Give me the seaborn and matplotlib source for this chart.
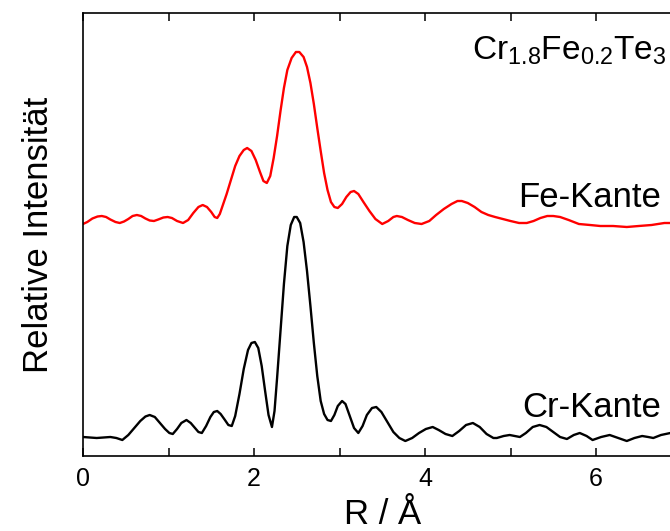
import pandas as pd
import matplotlib
matplotlib.use("Agg")
import matplotlib.pyplot as plt
import seaborn as sns
from matplotlib.ticker import MultipleLocator

# ---- data (R in Angstrom, intensity in arbitrary units) ----
fe_r = [0.00, 0.05, 0.11, 0.17, 0.22, 0.27, 0.32, 0.38, 0.43, 0.48, 0.53, 0.58,
        0.63, 0.68, 0.73, 0.78, 0.83, 0.88, 0.94, 0.99, 1.04, 1.10, 1.17, 1.23,
        1.29, 1.35, 1.40, 1.45, 1.50, 1.54, 1.57, 1.60, 1.64, 1.68, 1.73, 1.78,
        1.83, 1.88, 1.92, 1.97, 2.02, 2.07, 2.11, 2.15, 2.19, 2.23, 2.27, 2.31,
        2.35, 2.39, 2.44, 2.49, 2.53, 2.58, 2.62, 2.66, 2.70, 2.74, 2.78, 2.82,
        2.86, 2.90, 2.94, 2.98, 3.03, 3.08, 3.13, 3.17, 3.22, 3.28, 3.35, 3.42,
        3.50, 3.57, 3.63, 3.67, 3.73, 3.80, 3.88, 3.96, 4.05, 4.13, 4.22, 4.31,
        4.38, 4.43, 4.50, 4.58, 4.66, 4.74, 4.82, 4.91, 5.00, 5.10, 5.19, 5.27,
        5.35, 5.43, 5.50, 5.58, 5.68, 5.80, 5.93, 6.05, 6.20, 6.36, 6.50, 6.65,
        6.80, 6.95]
fe_int = [232, 234, 237.5, 239.5, 240, 239, 236.5, 234, 233, 234.5, 237, 240,
          241, 240, 237.5, 235.5, 235, 236.5, 238.5, 239, 238, 235, 233, 236,
          243, 249, 251, 249, 244, 239, 238, 242, 252, 262, 276, 290,
          300, 306, 308, 305, 296, 284, 275, 273, 280, 298, 320, 345,
          368, 386, 398, 404, 404, 399, 389, 373, 352, 328, 305, 283,
          266, 254, 249, 248, 252, 259, 264, 265, 262, 254, 245, 237,
          232, 235, 239, 240, 239, 236, 233, 232, 235, 241, 247, 252,
          255, 255, 253, 249, 244, 241, 239, 237, 235, 233, 233, 235,
          238, 240, 240, 239, 236, 232, 231, 230, 230, 229, 230, 231,
          233, 233]

cr_r = [0.00, 0.08, 0.16, 0.24, 0.32, 0.39, 0.46, 0.53, 0.60, 0.67, 0.73, 0.78,
        0.84, 0.90, 0.96, 1.01, 1.05, 1.10, 1.15, 1.21, 1.26, 1.31, 1.35, 1.39,
        1.44, 1.49, 1.53, 1.57, 1.61, 1.66, 1.70, 1.74, 1.78, 1.83, 1.88, 1.93,
        1.97, 2.01, 2.05, 2.09, 2.13, 2.17, 2.21, 2.24, 2.27, 2.31, 2.35, 2.39,
        2.43, 2.47, 2.50, 2.54, 2.58, 2.62, 2.66, 2.70, 2.74, 2.78, 2.82, 2.86,
        2.90, 2.94, 2.98, 3.03, 3.07, 3.12, 3.17, 3.22, 3.27, 3.32, 3.38, 3.43,
        3.49, 3.56, 3.63, 3.70, 3.77, 3.85, 3.93, 4.01, 4.09, 4.16, 4.24, 4.32,
        4.40, 4.48, 4.56, 4.64, 4.72, 4.80, 4.84, 4.92, 4.99, 5.05, 5.11, 5.18,
        5.26, 5.34, 5.42, 5.50, 5.58, 5.66, 5.74, 5.81, 5.89, 5.96, 6.06, 6.16,
        6.26, 6.36, 6.45, 6.54, 6.61, 6.67, 6.76, 6.87, 6.95]
cr_int = [19, 18.5, 18, 18.5, 19, 18, 16, 21, 28, 35, 39.5, 41,
          39, 33, 27, 23, 22, 27, 33, 36, 33, 28, 24, 23,
          30, 39, 44, 45, 42, 36, 31, 30, 40, 62, 87, 106,
          113, 114, 108, 90, 65, 41, 29, 45, 78, 125, 172, 210,
          231, 239, 239, 233, 214, 185, 150, 113, 80, 55, 42, 36,
          35, 41, 50, 55, 52, 40, 28, 23, 30, 41, 48, 49,
          44, 34, 24, 18, 15, 18, 23, 27, 29, 26, 22, 20,
          25, 31, 33, 29, 22, 18, 18, 20, 21, 20, 19, 23,
          29, 31, 29, 24, 19, 17, 21, 23, 20, 16, 19, 21,
          18, 15, 18, 20, 19, 18, 21, 23, 23]

edge_labels = ["Fe-Kante", "Cr-Kante"]
compound = r"Cr$_{1.8}$Fe$_{0.2}$Te$_{3}$"

df = pd.concat([
    pd.DataFrame({"R": fe_r, "I": fe_int, "edge": "Fe"}),
    pd.DataFrame({"R": cr_r, "I": cr_int, "edge": "Cr"}),
])

sns.set_style("ticks")
plt.rcParams["font.family"] = ["Liberation Sans", "DejaVu Sans"]
plt.rcParams["mathtext.fontset"] = "custom"
plt.rcParams["mathtext.rm"] = "Liberation Sans"
plt.rcParams["mathtext.it"] = "Liberation Sans"
plt.rcParams["text.color"] = "black"
plt.rcParams["axes.labelcolor"] = "black"

fig = plt.figure(figsize=(6.7, 5.31), dpi=100)
ax = fig.add_axes([83 / 670, 75 / 531, 598.5 / 670, 443 / 531])

sns.lineplot(data=df, x="R", y="I", hue="edge", palette={"Fe": "#ff0000", "Cr": "black"},
             sort=False, estimator=None, linewidth=1.7, legend=False, ax=ax)

ax.set_xlim(0, 7)
ax.set_ylim(0, 443)
ax.set_yticks([])
ax.xaxis.set_major_locator(MultipleLocator(2))
ax.xaxis.set_minor_locator(MultipleLocator(1))
ax.tick_params(axis="x", which="both", direction="in", top=True, bottom=True,
               length=6, width=1.1, labelsize=18, pad=8, colors="black")
for s in ax.spines.values():
    s.set_linewidth(1.2)
    s.set_color("black")

ax.set_xlabel("R / Å", fontsize=25, labelpad=5)
ax.set_ylabel("Relative Intensität", fontsize=25, labelpad=20)

ax.text(6.76, 249, edge_labels[0], fontsize=25, ha="right", va="baseline")
ax.text(6.76, 39, edge_labels[1], fontsize=25, ha="right", va="baseline")
ax.text(4.55, 396, compound, fontsize=24, ha="left", va="baseline")

fig.savefig("out.png", dpi=100)
